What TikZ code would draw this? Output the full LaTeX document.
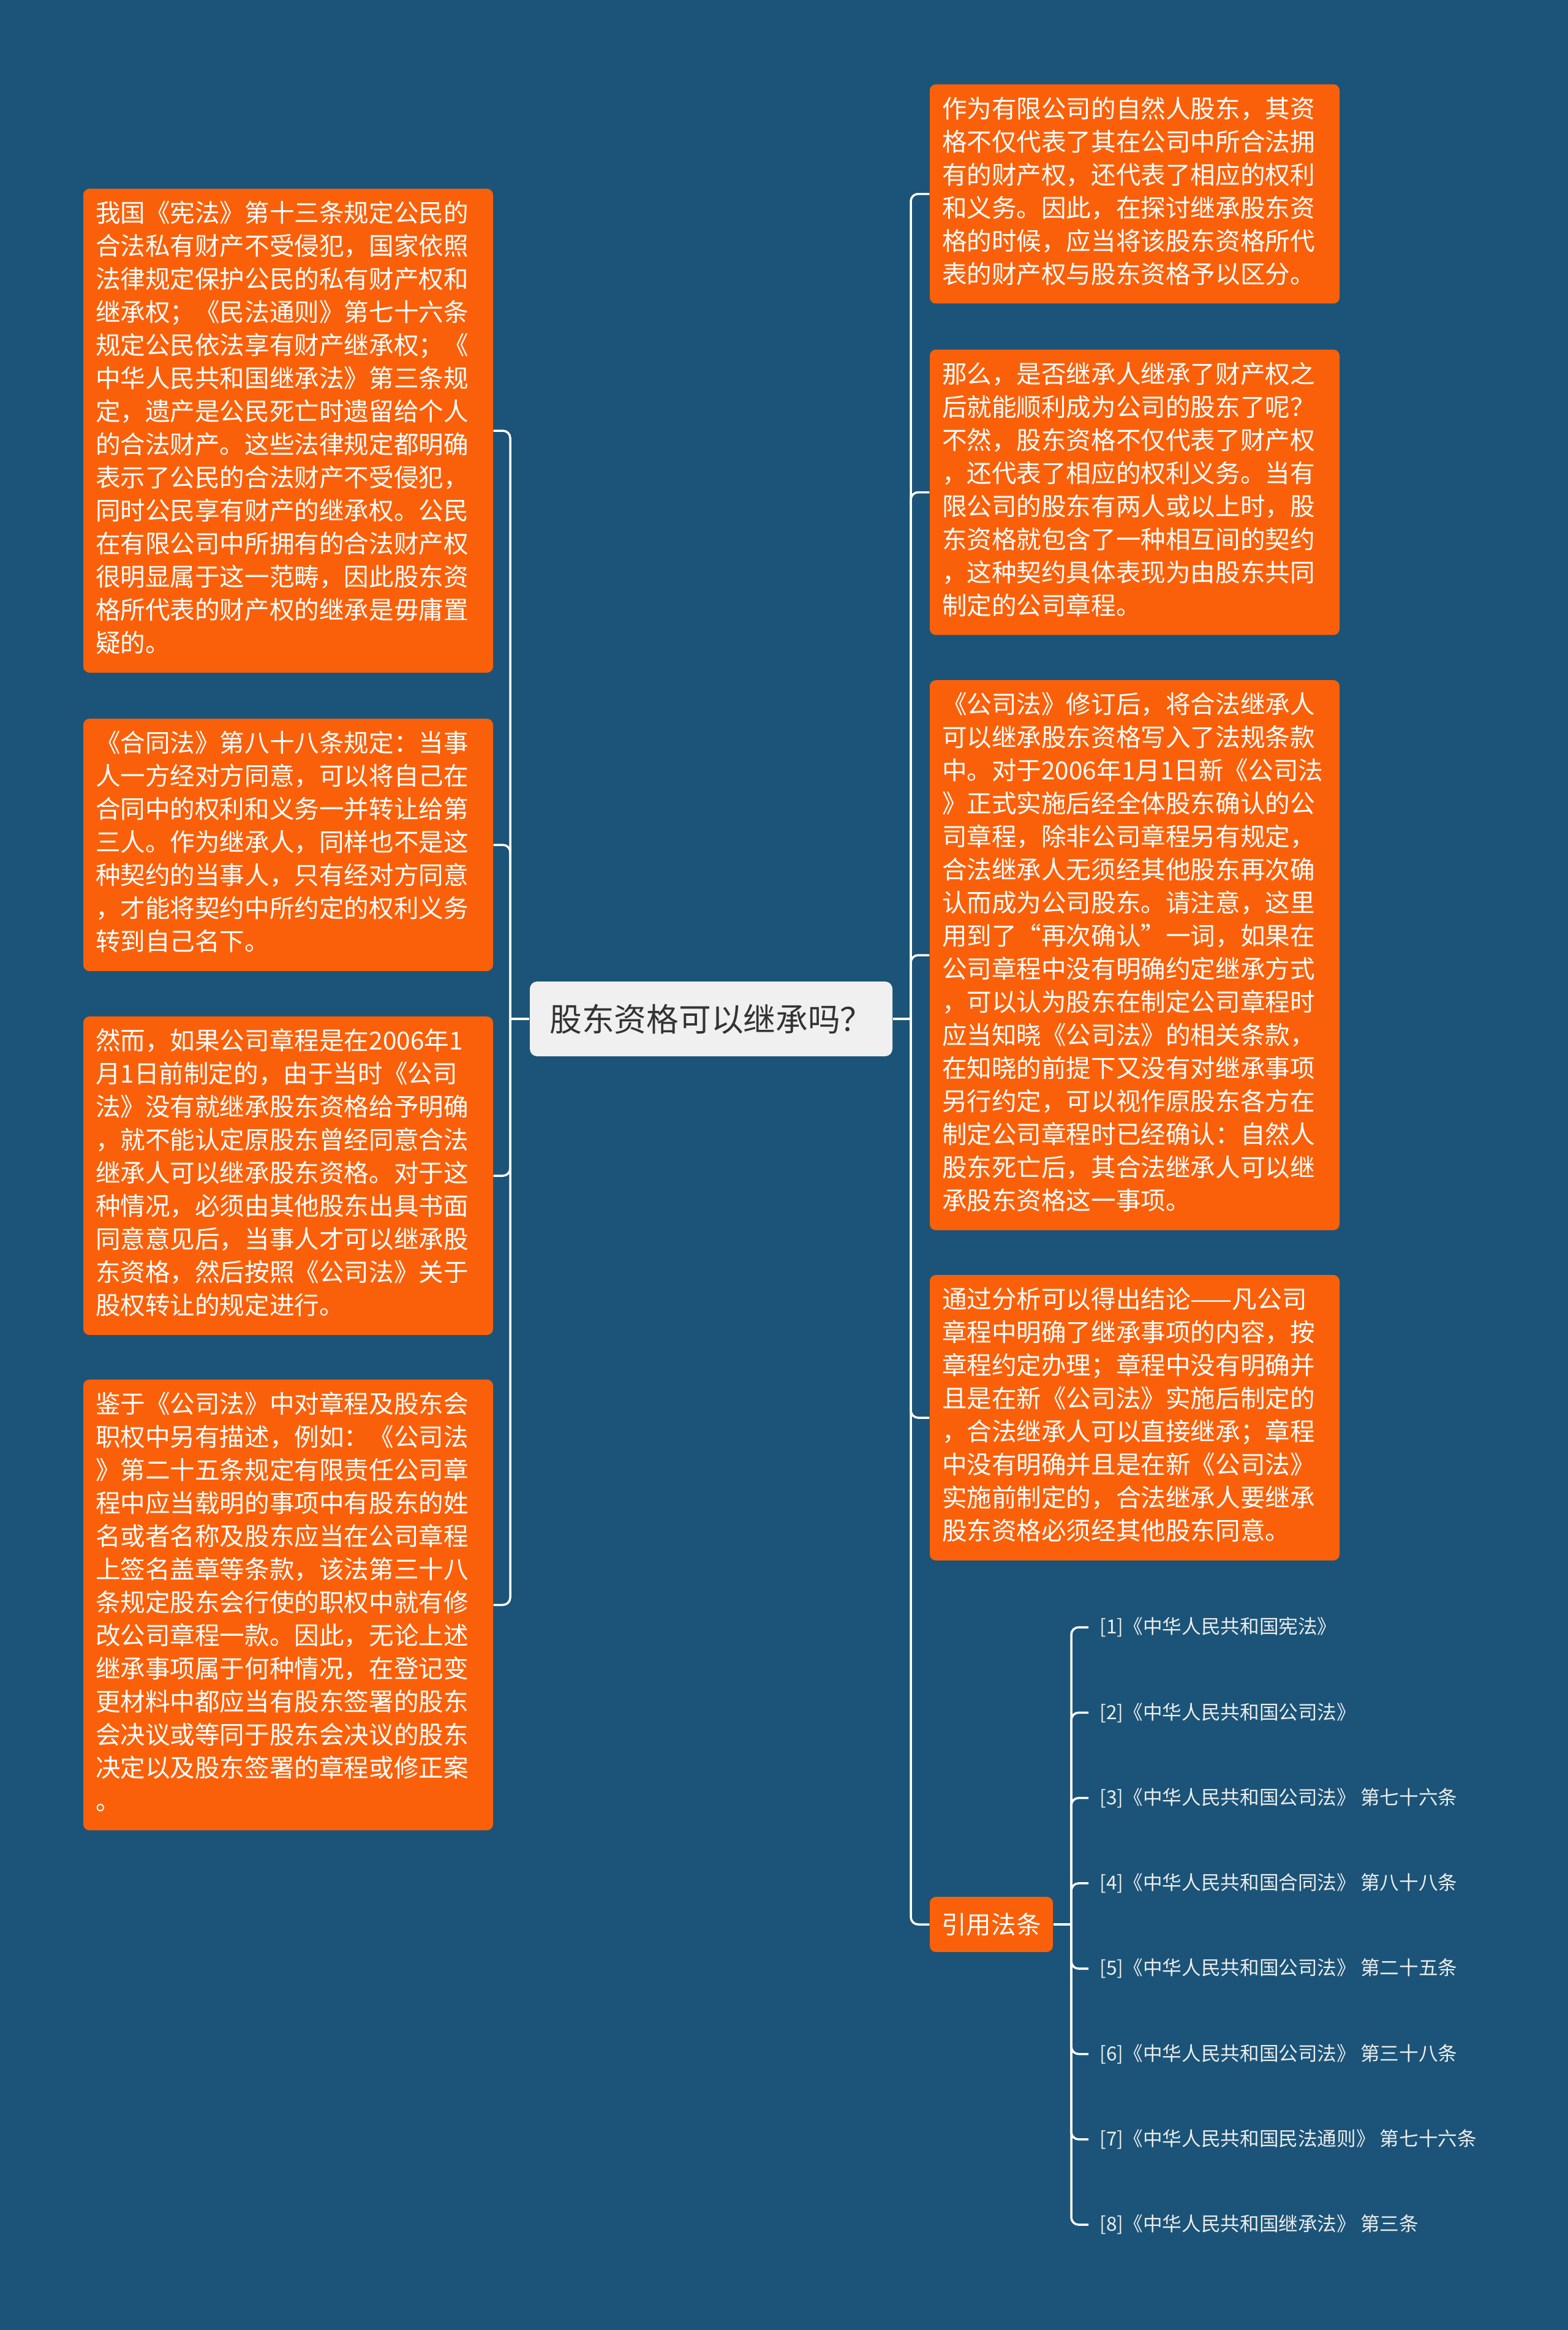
\documentclass[tikz,border=0pt]{standalone}
\usepackage{fontspec}
\setmainfont{Noto Sans CJK SC}
\usepackage{tikz}
\definecolor{bgblue}{RGB}{27,84,120}
\definecolor{boxorange}{RGB}{250,96,10}
\definecolor{rootgray}{RGB}{240,240,240}
\definecolor{roottext}{RGB}{51,51,51}

\begin{document}
\begin{tikzpicture}
       \tikzstyle{branchline} = [draw=white, line width=1pt]
       \tikzstyle{topic} = [rectangle, rounded corners=0.1cm, fill=boxorange, text=white, text width=6.29cm, inner xsep=0.2cm, inner ysep=0.17cm, align=left, font=\fontsize{11.55pt}{15.36pt}\selectfont, execute at begin node=\strut, execute at end node=\strut]
       \tikzstyle{rootnode} = [rectangle, rounded corners=0.12cm, fill=rootgray, text=roottext, minimum width=5.92cm, minimum height=1.22cm, font=\fontsize{15pt}{18pt}\selectfont]
       \tikzstyle{citebox} = [rectangle, rounded corners=0.1cm, fill=boxorange, text=white, minimum width=2.01cm, minimum height=0.9cm, font=\fontsize{11.55pt}{14pt}\selectfont]
       \tikzstyle{citeitem} = [anchor=west, inner xsep=0.18cm, text=white!93!black, font=\fontsize{9pt}{10pt}\selectfont]
       \useasboundingbox (0cm,0cm) rectangle (25.6cm,-38.03cm);
       \fill [bgblue] (0cm,0cm) rectangle (25.6cm,-38.03cm);

       \node (root) [rootnode] at (11.61cm,-16.63cm) {股东资格可以继承吗？};

       \node (L-1) [topic] at (4.705cm,-7.03cm) {我国《宪法》第十三条规定公民的\\合法私有财产不受侵犯，国家依照\\法律规定保护公民的私有财产权和\\继承权；《民法通则》第七十六条\\规定公民依法享有财产继承权；《\\中华人民共和国继承法》第三条规\\定，遗产是公民死亡时遗留给个人\\的合法财产。这些法律规定都明确\\表示了公民的合法财产不受侵犯，\\同时公民享有财产的继承权。公民\\在有限公司中所拥有的合法财产权\\很明显属于这一范畴，因此股东资\\格所代表的财产权的继承是毋庸置\\疑的。};
       \node (L-2) [topic] at (4.705cm,-13.79cm) {《合同法》第八十八条规定：当事\\人一方经对方同意，可以将自己在\\合同中的权利和义务一并转让给第\\三人。作为继承人，同样也不是这\\种契约的当事人，只有经对方同意\\，才能将契约中所约定的权利义务\\转到自己名下。};
       \node (L-3) [topic] at (4.705cm,-19.19cm) {然而，如果公司章程是在2006年1\\月1日前制定的，由于当时《公司\\法》没有就继承股东资格给予明确\\，就不能认定原股东曾经同意合法\\继承人可以继承股东资格。对于这\\种情况，必须由其他股东出具书面\\同意意见后，当事人才可以继承股\\东资格，然后按照《公司法》关于\\股权转让的规定进行。};
       \node (L-4) [topic] at (4.705cm,-26.195cm) {鉴于《公司法》中对章程及股东会\\职权中另有描述，例如：《公司法\\》第二十五条规定有限责任公司章\\程中应当载明的事项中有股东的姓\\名或者名称及股东应当在公司章程\\上签名盖章等条款，该法第三十八\\条规定股东会行使的职权中就有修\\改公司章程一款。因此，无论上述\\继承事项属于何种情况，在登记变\\更材料中都应当有股东签署的股东\\会决议或等同于股东会决议的股东\\决定以及股东签署的章程或修正案\\。};

       \node (R-1) [topic] at (18.525cm,-3.165cm) {作为有限公司的自然人股东，其资\\格不仅代表了其在公司中所合法拥\\有的财产权，还代表了相应的权利\\和义务。因此，在探讨继承股东资\\格的时候，应当将该股东资格所代\\表的财产权与股东资格予以区分。};
       \node (R-2) [topic] at (18.525cm,-8.035cm) {那么，是否继承人继承了财产权之\\后就能顺利成为公司的股东了呢？\\不然，股东资格不仅代表了财产权\\，还代表了相应的权利义务。当有\\限公司的股东有两人或以上时，股\\东资格就包含了一种相互间的契约\\，这种契约具体表现为由股东共同\\制定的公司章程。};
       \node (R-3) [topic] at (18.525cm,-15.59cm) {《公司法》修订后，将合法继承人\\可以继承股东资格写入了法规条款\\中。对于2006年1月1日新《公司法\\》正式实施后经全体股东确认的公\\司章程，除非公司章程另有规定，\\合法继承人无须经其他股东再次确\\认而成为公司股东。请注意，这里\\用到了“再次确认”一词，如果在\\公司章程中没有明确约定继承方式\\，可以认为股东在制定公司章程时\\应当知晓《公司法》的相关条款，\\在知晓的前提下又没有对继承事项\\另行约定，可以视作原股东各方在\\制定公司章程时已经确认：自然人\\股东死亡后，其合法继承人可以继\\承股东资格这一事项。};
       \node (R-4) [topic] at (18.525cm,-23.14cm) {通过分析可以得出结论——凡公司\\章程中明确了继承事项的内容，按\\章程约定办理；章程中没有明确并\\且是在新《公司法》实施后制定的\\，合法继承人可以直接继承；章程\\中没有明确并且是在新《公司法》\\实施前制定的，合法继承人要继承\\股东资格必须经其他股东同意。};
       \node (R-5) [citebox] at (16.185cm,-31.41cm) {引用法条};

       \coordinate (left-joint) at (8.33cm,-16.63cm);
       \coordinate (right-joint) at (14.87cm,-16.63cm);
       \coordinate (cite-joint) at (17.49cm,-31.41cm);

       \draw [branchline] (root.west) -- (left-joint);
       \draw [branchline] (root.east) -- (right-joint);
        \foreach \i in {1,2,3,4}
        {
          \draw [branchline, rounded corners=0.12cm] (left-joint) |- (L-\i.east);
        }
        \foreach \i in {1,2,3,4,5}
        {
          \draw [branchline, rounded corners=0.12cm] (right-joint) |- (R-\i.west);
        }
       \draw [branchline] (R-5.east) -- (cite-joint);

        \foreach \i/\t in {1/{[1]《中华人民共和国宪法》},2/{[2]《中华人民共和国公司法》},3/{[3]《中华人民共和国公司法》 第七十六条},4/{[4]《中华人民共和国合同法》 第八十八条},5/{[5]《中华人民共和国公司法》 第二十五条},6/{[6]《中华人民共和国公司法》 第三十八条},7/{[7]《中华人民共和国民法通则》 第七十六条},8/{[8]《中华人民共和国继承法》 第三条}}
        {
          \node (ref-\i) [citeitem] at (17.77,{-26.56-1.393*(\i-1)}) {\t};
          \draw [branchline, rounded corners=0.12cm] (cite-joint) |- (ref-\i.west);
        }

   \end{tikzpicture}
\end{document}
